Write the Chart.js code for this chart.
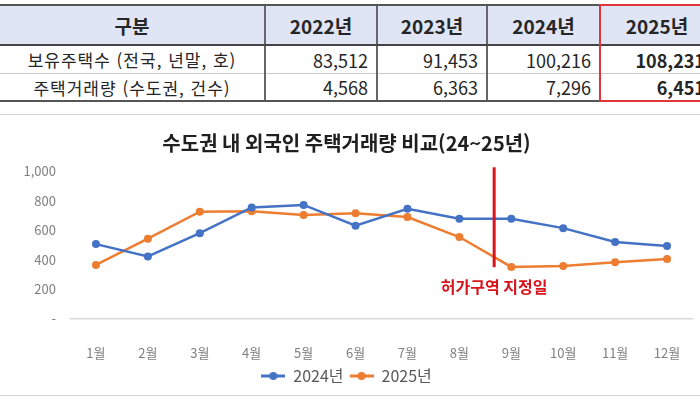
<!DOCTYPE html>
<html lang="ko">
<head>
<meta charset="utf-8">
<script src="https://cdn.jsdelivr.net/npm/chart.js@4.4.1/dist/chart.umd.min.js"></script>
<style>
    html, body { margin: 0; padding: 0; background: #fff; width: 700px; height: 400px; overflow: hidden; }
    body { position: relative; font-family: "Liberation Sans Narrow", "Noto Sans CJK KR", sans-serif; }
    .summary { position: absolute; left: 0; top: 4px; border-collapse: collapse; table-layout: fixed; width: 713px; }
    .summary th, .summary td { padding: 0 8px; white-space: nowrap; color: #262626; }
    .summary th { height: 38px; background: #dfe5f4; font-size: 19px; font-weight: bold; text-align: center;
        border-top: 2px solid #555; border-bottom: 2px solid #444; border-left: 2px solid #666; }
    .summary th:first-child { font-family: "Noto Sans CJK KR", sans-serif; font-size: 19px; }
    .summary td { font-size: 18px; text-align: right; border-left: 2px solid #666; }
    .summary tr.r1 td { height: 27px; border-bottom: 1px solid #c8c8c8; }
    .summary tr.r2 td { height: 26px; border-bottom: 2px solid #555; }
    .summary .label { text-align: center; font-family: "Noto Sans CJK KR", sans-serif; font-size: 17px; letter-spacing: 1px; }
    .summary th:first-child, .summary td:first-child { border-left: none; }
    .summary .hl { font-weight: bold; }
    .redbox { position: absolute; left: 599px; top: 4px; width: 120px; height: 94px; border: 2px solid #e0353a; }
    .chart-frame { position: absolute; left: 0; top: 114px; width: 700px; height: 280px;
        border-top: 1px solid #d4d4d4; border-bottom: 1px solid #d4d4d4; }
</style>
</head>
<body>
<table class="summary" id="summary">
    <colgroup>
        <col style="width:265px"><col style="width:112px"><col style="width:110px"><col style="width:113px"><col style="width:113px">
    </colgroup>
    <thead><tr id="head-row"><th>구분</th></tr></thead>
    <tbody id="summary-body"></tbody>
</table>
<div class="redbox"></div>

<div class="chart-frame">
    <canvas id="chart-deals" width="700" height="280"></canvas>
</div>

<script>
// Tabla superior
const years = ['2022년', '2023년', '2024년', '2025년'];
const rowLabels = ['보유주택수 (전국, 년말, 호)', '주택거래량 (수도권, 건수)'];
const ownedHomes = [83512, 91453, 100216, 108231];
const homeDeals = [4568, 6363, 7296, 6451];

// Gráfico: transacciones de vivienda de extranjeros en la capital
const months = ['1월', '2월', '3월', '4월', '5월', '6월', '7월', '8월', '9월', '10월', '11월', '12월'];
const deals2024 = [506, 423, 580, 754, 771, 630, 745, 678, 678, 614, 521, 493];
const deals2025 = [365, 543, 725, 728, 702, 715, 689, 554, 352, 358, 384, 406];
const seriesNames = ['2024년', '2025년'];
const yTicks = [0, 200, 400, 600, 800, 1000];

// Línea roja: fecha de designación (entre 8월 y 9월)
const markerAt = 7.67;
const markerRange = [350, 1025];
const markerLabel = '허가구역 지정일';
const markerLabelValue = 214;

const BLUE = '#4472C4';
const ORANGE = '#ED7D31';
const KR = '"Noto Sans CJK KR", sans-serif';
const NARROW = '"Liberation Sans Narrow", "Noto Sans CJK KR", sans-serif';

function buildTable() {
    const head = document.getElementById('head-row');
    head.innerHTML += years.map(y => `<th>${y}</th>`).join('');

    const fmt = n => n.toLocaleString('en-US');
    const rows = [ownedHomes, homeDeals];
    document.getElementById('summary-body').innerHTML = rows.map((vals, i) => `
        <tr class="r${i + 1}">
            <td class="label">${rowLabels[i]}</td>
            ${vals.map((v, j) => `<td class="${j === vals.length - 1 ? 'hl' : ''}">${fmt(v)}</td>`).join('')}
        </tr>`).join('');
}

// Icono de leyenda: línea con marcador
function legendIcon(color) {
    const c = document.createElement('canvas');
    c.width = 24; c.height = 10;
    const g = c.getContext('2d');
    g.strokeStyle = color; g.lineWidth = 3;
    g.beginPath(); g.moveTo(0, 5); g.lineTo(24, 5); g.stroke();
    g.fillStyle = color;
    g.beginPath(); g.arc(12, 5, 4, 0, Math.PI * 2); g.fill();
    return c;
}

const markerPlugin = {
    id: 'markerLine',
    afterDatasetsDraw(chart) {
        const { ctx, scales: { x, y } } = chart;
        const px = x.getPixelForValue(markerAt);
        ctx.save();
        ctx.strokeStyle = '#d7141c';
        ctx.lineWidth = 3;
        ctx.beginPath();
        ctx.moveTo(px, y.getPixelForValue(markerRange[1]));
        ctx.lineTo(px, y.getPixelForValue(markerRange[0]));
        ctx.stroke();

        ctx.fillStyle = '#d7141c';
        ctx.font = 'bold 16px ' + KR;
        ctx.textAlign = 'center';
        ctx.textBaseline = 'middle';
        ctx.fillText(markerLabel, px, y.getPixelForValue(markerLabelValue));
        ctx.restore();
    }
};

function drawChart() {
    const icons = [legendIcon(BLUE), legendIcon(ORANGE)];
    const ctx = document.getElementById('chart-deals').getContext('2d');

    new Chart(ctx, {
        type: 'line',
        data: {
            labels: months,
            datasets: [
                { label: seriesNames[0], data: deals2024, borderColor: BLUE, backgroundColor: BLUE },
                { label: seriesNames[1], data: deals2025, borderColor: ORANGE, backgroundColor: ORANGE }
            ]
        },
        options: {
            responsive: false,
            animation: false,
            devicePixelRatio: 1,
            layout: { padding: { left: 0, right: 7, top: 0, bottom: 1 } },
            elements: {
                line: { borderWidth: 2.5, tension: 0 },
                point: { radius: 4, borderWidth: 0, pointStyle: 'circle' }
            },
            plugins: {
                title: {
                    display: true,
                    text: '수도권 내 외국인 주택거래량 비교(24~25년)',
                    color: '#1f1f1f',
                    font: { family: KR, size: 20, weight: 'bold' },
                    padding: { top: 16, bottom: 16 }
                },
                legend: {
                    position: 'bottom',
                    labels: {
                        usePointStyle: true,
                        pointStyleWidth: 24,
                        padding: 6,
                        color: '#595959',
                        font: { family: NARROW, size: 16 },
                        generateLabels(chart) {
                            const items = Chart.defaults.plugins.legend.labels.generateLabels(chart);
                            items.forEach((it, i) => { it.pointStyle = icons[i]; });
                            return items;
                        }
                    }
                },
                tooltip: { enabled: false }
            },
            scales: {
                x: {
                    offset: true,
                    grid: { display: false },
                    border: { display: false },
                    ticks: { color: '#7f7f7f', padding: 18, font: { family: NARROW, size: 13 } },
                    afterFit(s) { s.height = 43; }
                },
                y: {
                    min: 0,
                    max: 1000,
                    afterBuildTicks(s) { s.ticks = yTicks.map(v => ({ value: v })); },
                    grid: {
                        drawTicks: false,
                        color: c => (c.tick && c.tick.value === 0 ? '#d9d9d9' : 'transparent'),
                        lineWidth: 1.5
                    },
                    border: { display: false },
                    ticks: {
                        color: '#7f7f7f',
                        padding: 14,
                        font: { family: NARROW, size: 13 },
                        callback: v => (v === 0 ? '-' : v.toLocaleString('en-US'))
                    },
                    afterFit(s) { s.width = 70; }
                }
            }
        },
        plugins: [markerPlugin]
    });
}

buildTable();
drawChart();
</script>
</body>
</html>
